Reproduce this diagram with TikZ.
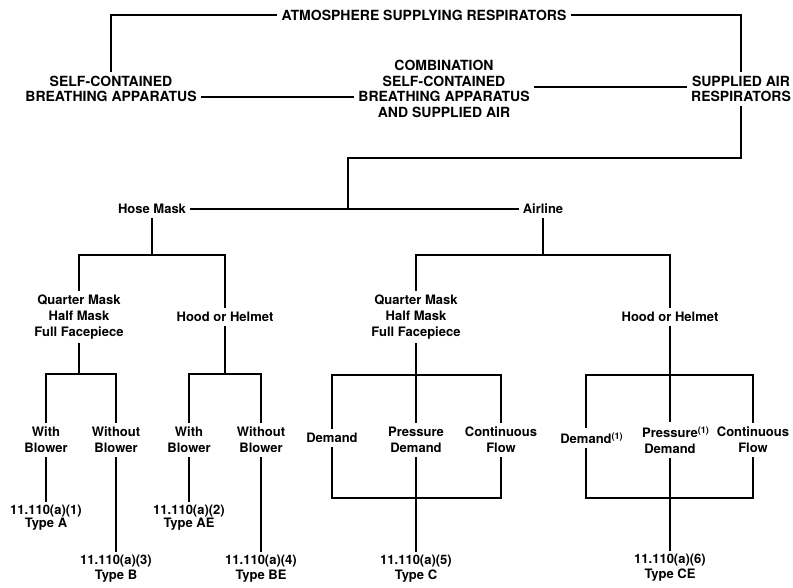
\documentclass[tikz,border=0pt]{standalone}
\usepackage{fontspec}
\setmainfont{TeX Gyre Heros}
\usetikzlibrary{positioning}

\begin{document}
\begin{tikzpicture}[x=1pt,y=-1pt,
  headbox/.style={align=center,font=\fontsize{14}{15.5}\selectfont\bfseries,inner sep=4pt},
  subbox/.style={align=center,font=\fontsize{13}{16}\selectfont\bfseries,inner sep=4pt},
  refbox/.style={align=center,font=\fontsize{13}{15}\selectfont\bfseries,inner sep=3pt},
  reftight/.style={refbox,font=\fontsize{13}{12}\selectfont\bfseries},
  link/.style={line width=2.1pt},
]
  \useasboundingbox (0,0) rectangle (793,588);

  % bus levels
  \coordinate (airjog) at (348,158);
  \coordinate (lvlA) at (0,255);
  \coordinate (lvlB) at (0,374);
  \coordinate (btop) at (0,375);
  \coordinate (bbot) at (0,498);

  % Top level
  \node[headbox] (atm)  at (424,15) {ATMOSPHERE SUPPLYING RESPIRATORS};
  \node[headbox] (scba) at (111,89) {SELF-CONTAINED\\BREATHING APPARATUS};
  \node[headbox] (comb) at (444,89) {COMBINATION\\SELF-CONTAINED\\BREATHING APPARATUS\\AND SUPPLIED AIR};
  \node[headbox] (sar)  at (741,89) {SUPPLIED AIR\\RESPIRATORS};

  \draw[link] (atm.west) -| (scba.north);
  \draw[link] (atm.east) -| (sar.north);
  \draw[link] ([yshift=-8pt]scba.east) -- ([yshift=-8pt]comb.west);
  \draw[link] ([yshift=2pt]comb.east) -- ([yshift=2pt]sar.west);

  % Supplied air
  \node[subbox] (hose) at (152,209) {Hose Mask};
  \node[subbox] (air)  at (543,209) {Airline};
  \draw[link] (hose.east) -- (air.west);
  \draw[link] (sar.south) |- (airjog) -- (airjog |- hose.east);

  % Hose mask branch
  \node[subbox] (hqm) at (79,317) {Quarter Mask\\Half Mask\\Full Facepiece};
  \node[subbox] (hhh) at (225,317) {Hood or Helmet};
  \draw[link] (hose) -- (hose |- lvlA);
  \draw[link] (hqm.north) |- (lvlA -| hhh.north) -- (hhh.north);

  \node[subbox] (wb1) at (46,440)  {With\\Blower};
  \node[subbox] (nb1) at (116,440) {Without\\Blower};
  \draw[link] (hqm) -- (hqm |- lvlB);
  \draw[link] (wb1.north) |- (lvlB -| nb1.north) -- (nb1.north);

  \node[subbox] (wb2) at (189,440) {With\\Blower};
  \node[subbox] (nb2) at (261,440) {Without\\Blower};
  \draw[link] (hhh) -- (hhh |- lvlB);
  \draw[link] (wb2.north) |- (lvlB -| nb2.north) -- (nb2.north);

  \node[reftight] (r1) at (46,518)  {11.110(a)(1)\\Type A};
  \node[reftight] (r2) at (189,518) {11.110(a)(2)\\Type AE};
  \node[refbox]   (r3) at (116,569) {11.110(a)(3)\\Type B};
  \node[refbox]   (r4) at (261,569) {11.110(a)(4)\\Type BE};
  \draw[link] (wb1) -- (r1);
  \draw[link] (wb2) -- (r2);
  \draw[link] (nb1) -- (r3);
  \draw[link] (nb2) -- (r4);

  % Airline branch
  \node[subbox] (aqm) at (416,317) {Quarter Mask\\Half Mask\\Full Facepiece};
  \node[subbox] (ahh) at (670,317) {Hood or Helmet};
  \draw[link] (air) -- (air |- lvlA);
  \draw[link] (aqm.north) |- (lvlA -| ahh.north) -- (ahh.north);

  % Facepiece valves
  \node[subbox] (dm1) at (332,438) {Demand};
  \node[subbox] (pd1) at (416,440) {Pressure\\Demand};
  \node[subbox] (cf1) at (501,440) {Continuous\\Flow};
  \node[refbox] (r5)  at (416,569) {11.110(a)(5)\\Type C};
  \draw[link] (dm1.north) |- (btop -| cf1.north) -- (cf1.north);
  \draw[link] (dm1.south) |- (bbot -| cf1.south) -- (cf1.south);
  \draw[link] (aqm) -- (pd1);
  \draw[link] (pd1) -- (r5);

  % Hood valves
  \node[subbox] (dm2) at (586,438) {Demand\rlap{\textsuperscript{(1)}}};
  \node[subbox] (pd2) at (670,440) {Pressure\rlap{\textsuperscript{(1)}}\\Demand};
  \node[subbox] (cf2) at (753,440) {Continuous\\Flow};
  \node[refbox] (r6)  at (670,568) {11.110(a)(6)\\Type CE};
  \draw[link] (dm2.north) |- (btop -| cf2.north) -- (cf2.north);
  \draw[link] (dm2.south) |- (bbot -| cf2.south) -- (cf2.south);
  \draw[link] (ahh) -- (pd2);
  \draw[link] (pd2) -- (r6);
\end{tikzpicture}
\end{document}
